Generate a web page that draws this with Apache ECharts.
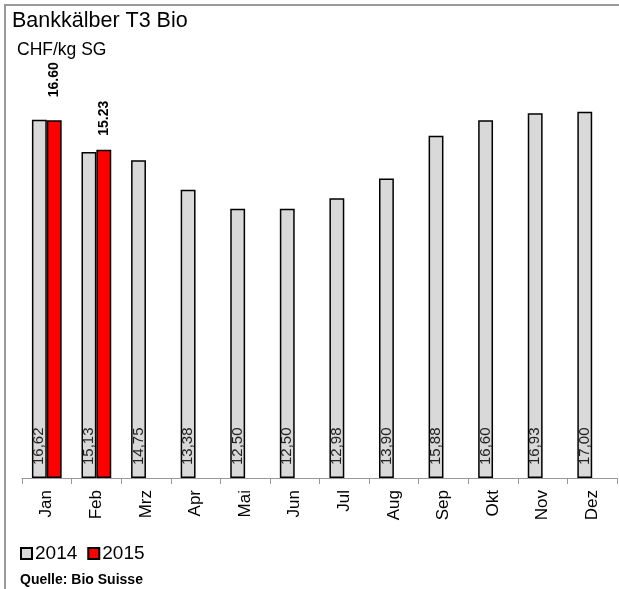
<!DOCTYPE html>
<html><head><meta charset="utf-8">
<script src="https://cdn.jsdelivr.net/npm/echarts@6/dist/echarts.min.js"></script>
<style>html,body{margin:0;padding:0;background:#fff}#c{width:619px;height:589px}</style>
</head><body><div id="c"></div>
<script>
const months = ['Jan','Feb','Mrz','Apr','Mai','Jun','Jul','Aug','Sep','Okt','Nov','Dez'];
const values2014 = [16.62,15.13,14.75,13.38,12.50,12.50,12.98,13.90,15.88,16.60,16.93,17.00];
const values2015 = [16.60,15.23,null,null,null,null,null,null,null,null,null,null];
const seriesNames = ['2014','2015'];
const titleText = 'Bankkälber T3 Bio';
const unitText = 'CHF/kg SG';
const sourceText = 'Quelle: Bio Suisse';

const FONT = 'Arial, "Liberation Sans", sans-serif';
// label offsets above the 2015 bars (styling only)
const topLabelDist = [23, 14];
const data2015 = values2015.map((v, i) => v == null ? null : {
  value: v,
  label: {distance: topLabelDist[i] != null ? topLabelDist[i] : 18}
});

const chart = echarts.init(document.getElementById('c'));
chart.setOption({
  animation: false,
  backgroundColor: '#fff',
  textStyle: {fontFamily: FONT},
  graphic: [
    {type:'rect', shape:{x:5,y:5,width:700,height:700}, style:{fill:'none',stroke:'#999',lineWidth:2}, silent:true},
    {type:'text', left:12, top:10, style:{text:titleText, font:'21.5px '+FONT, fill:'#000'}},
    {type:'text', left:17, top:41, style:{text:unitText, font:'17.5px '+FONT, fill:'#000'}},
    {type:'text', left:20, top:573, style:{text:sourceText, font:'bold 14px '+FONT, fill:'#000'}}
  ],
  legend: {
    left: 20, top: 544, padding: 0,
    icon: 'rect', itemWidth: 11, itemHeight: 11, itemGap: 10,
    textStyle: {fontSize: 19, color:'#000', fontFamily: FONT, padding:[0,0,0,-2]},
    data: seriesNames
  },
  grid: {left: 22, right: 2, top: 47, bottom: 111},
  xAxis: {
    type: 'category', data: months,
    axisLine: {lineStyle: {color:'#999', width:1}},
    axisTick: {show:true, length:6, lineStyle:{color:'#999'}},
    axisLabel: {rotate: 90, fontSize: 17, color:'#000', margin: 12, fontFamily: FONT}
  },
  yAxis: {type:'value', min:0, max:20, show:false, splitLine:{show:false}},
  series: [
    {
      name: seriesNames[0], type:'bar', data: values2014,
      barGap: '0%', barCategoryGap: '40%',
      itemStyle: {color:'#d9d9d9', borderColor:'#000', borderWidth:1.5},
      label: {show:true, position:'insideBottom', rotate:90, align:'left', verticalAlign:'middle', distance:13,
        fontSize:15, color:'#222', fontFamily: FONT,
        formatter: p => p.value.toFixed(2).replace('.', ',')}
    },
    {
      name: seriesNames[1], type:'bar', data: data2015,
      itemStyle: {color:'#ff0000', borderColor:'#000', borderWidth:1.5},
      label: {show:true, position:'top', rotate:90, align:'left', verticalAlign:'middle', distance:18,
        fontSize:14, fontWeight:'bold', color:'#000', fontFamily: FONT,
        formatter: p => p.value == null ? '' : Number(p.value).toFixed(2)}
    }
  ]
});
</script></body></html>
